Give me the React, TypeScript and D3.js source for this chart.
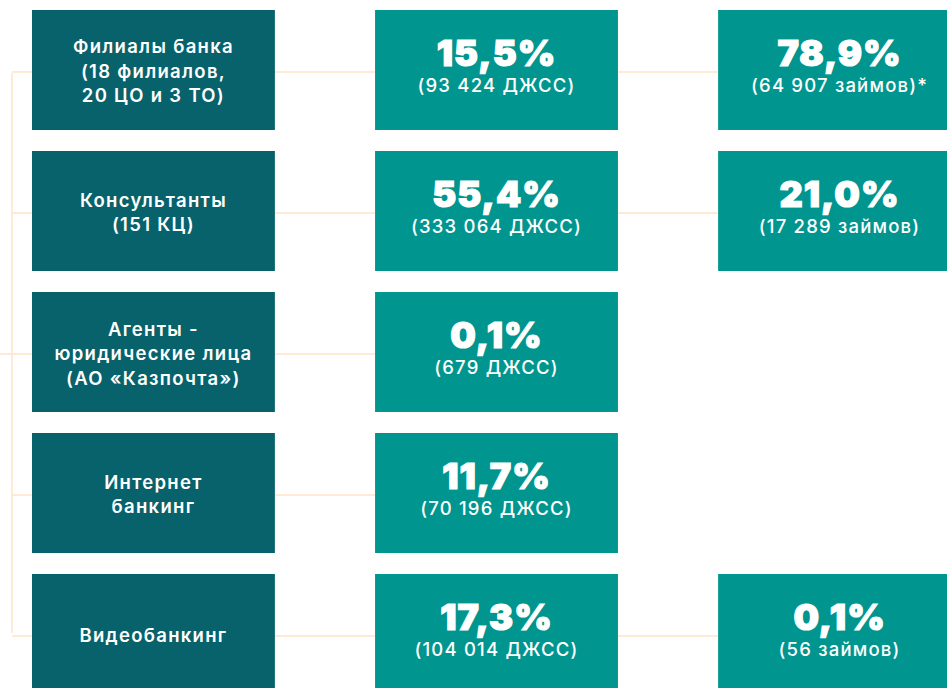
import { useEffect, useRef } from "react";
import * as d3 from "d3";

// каналы продаж (левая колонка)
const channels: string[][] = [
  ["Филиалы банка", "(18 филиалов,", "20 ЦО и 3 ТО)"],
  ["Консультанты", "(151 КЦ)"],
  ["Агенты -", "юридические лица", "(АО «Казпочта»)"],
  ["Интернет", "банкинг"],
  ["Видеобанкинг"],
];

// доля договоров ДЖСС, % и количество
const depositShare = [15.5, 55.4, 0.1, 11.7, 17.3];
const depositCount = [93424, 333064, 679, 70196, 104014];
const depositUnit = "ДЖСС";

// займы, % и количество (null - нет займов по каналу)
const loanShare: (number | null)[] = [78.9, 21.0, null, null, 0.1];
const loanCount: (number | null)[] = [64907, 17289, null, null, 56];
const loanNote = ["*", "", "", "", ""];
const loanUnit = "займов";

const W = 947;
const H = 688;
const DARK = "#07626b";
const TEAL = "#00968f";
const LINE = "#fde4c9";

const ru = d3.formatLocale({
  decimal: ",",
  thousands: " ",
  grouping: [3],
  currency: ["", ""],
});
const fmtPct = (v: number) => ru.format(".1f")(v) + "%";
const fmtCnt = ru.format(",d");

const App = () => {
  const svgRef = useRef<SVGSVGElement>(null);

  useEffect(() => {
    const svg = d3.select(svgRef.current);
    svg.selectAll("*").remove();

    const rows = d3
      .scaleBand<number>()
      .domain(d3.range(channels.length))
      .range([10, 694])
      .paddingInner(0.149);

    const cols = d3
      .scaleBand<number>()
      .domain([0, 1, 2])
      .range([32, 961])
      .paddingInner(0.292);

    const bw = cols.bandwidth();
    const bh = rows.bandwidth();
    const cy = (i: number) => rows(i)! + bh / 2;
    const lx = 12;

    const lines = svg.append("g").attr("stroke", LINE).attr("stroke-width", 1.5).attr("fill", "none");

    // вертикальная линия слева
    lines
      .append("line")
      .attr("x1", lx)
      .attr("x2", lx)
      .attr("y1", cy(0) + 3)
      .attr("y2", cy(channels.length - 1) - 1);

    channels.forEach((_, i) => {
      const y = cy(i) + 2;
      const mid = i === Math.floor(channels.length / 2);
      lines
        .append("line")
        .attr("x1", mid ? 0 : lx)
        .attr("x2", cols(0)!)
        .attr("y1", y)
        .attr("y2", y);
      lines
        .append("line")
        .attr("x1", cols(0)! + bw)
        .attr("x2", cols(1)!)
        .attr("y1", y)
        .attr("y2", y);
      if (loanShare[i] != null) {
        lines
          .append("line")
          .attr("x1", cols(1)! + bw)
          .attr("x2", cols(2)!)
          .attr("y1", y)
          .attr("y2", y);
      }
    });

    // левая колонка
    const left = svg
      .selectAll(".channel")
      .data(channels)
      .enter()
      .append("g")
      .attr("class", "channel");

    left
      .append("rect")
      .attr("x", cols(0)!)
      .attr("y", (_, i) => rows(i)!)
      .attr("width", bw)
      .attr("height", bh)
      .attr("fill", DARK);

    left.each(function (d, i) {
      const t = d3
        .select(this)
        .append("text")
        .attr("text-anchor", "middle")
        .attr("fill", "#ffffff")
        .attr("font-family", "Inter, 'Open Sans', sans-serif")
        .attr("font-weight", 600)
        .attr("font-size", 18.5)
        .attr("letter-spacing", 1.3);
      d.forEach((s, k) => {
        t.append("tspan")
          .attr("x", cols(0)! + bw / 2)
          .attr("y", cy(i) + 8 + (k - (d.length - 1) / 2) * 24.5)
          .text(s);
      });
    });

    const valueBox = (col: number, i: number, pct: number, sub: string) => {
      const g = svg.append("g");
      g.append("rect")
        .attr("x", cols(col)!)
        .attr("y", rows(i)!)
        .attr("width", bw)
        .attr("height", bh)
        .attr("fill", TEAL);
      g.append("text")
        .attr("x", cols(col)! + bw / 2)
        .attr("y", rows(i)! + 56)
        .attr("text-anchor", "middle")
        .attr("fill", "#ffffff")
        .attr("stroke", "#ffffff")
        .attr("stroke-width", 1.2)
        .attr("font-family", "Inter, sans-serif")
        .attr("font-weight", 900)
        .attr("font-size", 36)
        .attr("letter-spacing", 1)
        .text(fmtPct(pct));
      g.append("text")
        .attr("x", cols(col)! + bw / 2)
        .attr("y", rows(i)! + 82)
        .attr("text-anchor", "middle")
        .attr("fill", "#ffffff")
        .attr("font-family", "Inter, sans-serif")
        .attr("font-weight", 500)
        .attr("font-size", 18.5)
        .attr("letter-spacing", 1.2)
        .text(sub);
    };

    depositShare.forEach((p, i) => {
      valueBox(1, i, p, `(${fmtCnt(depositCount[i])} ${depositUnit})`);
    });

    loanShare.forEach((p, i) => {
      if (p == null) return;
      valueBox(2, i, p, `(${fmtCnt(loanCount[i]!)} ${loanUnit})${loanNote[i]}`);
    });
  }, []);

  return (
    <svg
      ref={svgRef}
      width={W}
      height={H}
      style={{ position: "absolute", left: 0, top: 0, background: "#ffffff" }}
    />
  );
};

export default App;
